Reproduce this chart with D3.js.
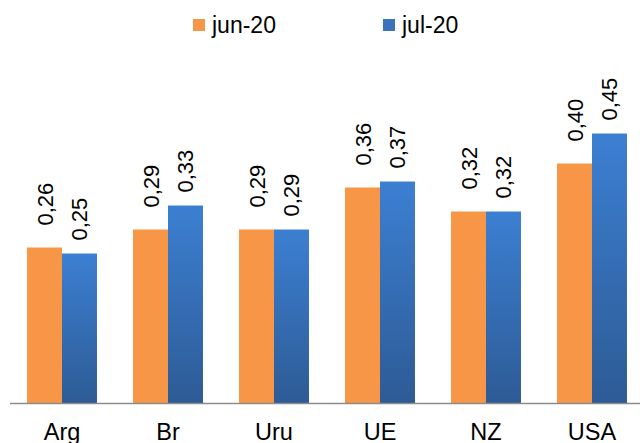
<!DOCTYPE html>
<html>
<head>
<meta charset="utf-8">
<script src="https://cdn.jsdelivr.net/npm/d3@7"></script>
<style>
  body { margin: 0; background: #fff; }
  svg { display: block; font-family: "Liberation Sans", Arial, sans-serif; }
</style>
</head>
<body>
<div id="chart"></div>
<script>
const categories = ["Arg", "Br", "Uru", "UE", "NZ", "USA"];
const seriesNames = ["jun-20", "jul-20"];
const jun20 = [0.26, 0.29, 0.29, 0.36, 0.32, 0.40];
const jul20 = [0.25, 0.33, 0.29, 0.37, 0.32, 0.45];

const W = 640, H = 443;
const baseY = 403.5;

const svg = d3.select("#chart")
  .append("svg")
  .attr("width", W)
  .attr("height", H);

const defs = svg.append("defs");
const grad = defs.append("linearGradient")
  .attr("id", "blueGrad")
  .attr("x1", 0).attr("y1", 0).attr("x2", 0).attr("y2", 1);
grad.append("stop").attr("offset", "0%").attr("stop-color", "#3c7fd2");
grad.append("stop").attr("offset", "100%").attr("stop-color", "#2d5b95");

const colors = ["#f79646", "url(#blueGrad)"];
const legendColors = ["#f79646", "#3a72bb"];
// orange labels sit higher above their bar than blue ones
const labelGap = [22, 13];

const x0 = d3.scaleBand().domain(categories).range([9, 645]).paddingInner(0.34).paddingOuter(0.17);
const x1 = d3.scaleBand().domain(seriesNames).range([0, x0.bandwidth()]);
const y = d3.scaleLinear().domain([0, 0.5]).range([baseY, baseY - 300]);

const data = categories.map((c, i) => ({ cat: c, values: [jun20[i], jul20[i]] }));
const fmt = (v) => d3.format(".2f")(v).replace(".", ",");

const groups = svg.selectAll(".grp")
  .data(data)
  .enter()
  .append("g")
  .attr("class", "grp")
  .attr("transform", (d) => "translate(" + x0(d.cat) + ",0)");

groups.selectAll("rect")
  .data((d) => d.values.map((v, j) => ({ s: seriesNames[j], v: v, j: j })))
  .enter()
  .append("rect")
  .attr("x", (d) => x1(d.s))
  .attr("y", (d) => y(d.v))
  .attr("width", x1.bandwidth())
  .attr("height", (d) => baseY - y(d.v))
  .attr("fill", (d) => colors[d.j]);

groups.selectAll("text.lbl")
  .data((d) => d.values.map((v, j) => ({ s: seriesNames[j], v: v, j: j })))
  .enter()
  .append("text")
  .attr("class", "lbl")
  .attr("transform", (d) => "translate(" + (x1(d.s) + x1.bandwidth() / 2 + 8) + "," + (y(d.v) - labelGap[d.j]) + ") rotate(-90)")
  .attr("font-size", 22)
  .attr("fill", "#000")
  .text((d) => fmt(d.v));

// axis line
svg.append("line")
  .attr("x1", 10).attr("x2", W)
  .attr("y1", baseY).attr("y2", baseY)
  .attr("stroke", "#8c8c8c")
  .attr("stroke-width", 1.5);

svg.selectAll("text.cat")
  .data(categories)
  .enter()
  .append("text")
  .attr("class", "cat")
  .attr("x", (d) => x0(d) + x0.bandwidth() / 2)
  .attr("y", 440)
  .attr("text-anchor", "middle")
  .attr("font-size", 23.5)
  .attr("fill", "#000")
  .text((d) => d);

// legend
const legend = svg.append("g").attr("id", "legend")
  .selectAll("g")
  .data(seriesNames)
  .enter()
  .append("g")
  .attr("transform", (d, i) => "translate(" + (193 + i * 190) + ",0)");

legend.append("rect")
  .attr("x", 0).attr("y", 19)
  .attr("width", 12).attr("height", 12)
  .attr("fill", (d, i) => legendColors[i]);

legend.append("text")
  .attr("x", 19)
  .attr("y", 33)
  .attr("font-size", 23)
  .attr("fill", "#000")
  .text((d) => d);
</script>
</body>
</html>
